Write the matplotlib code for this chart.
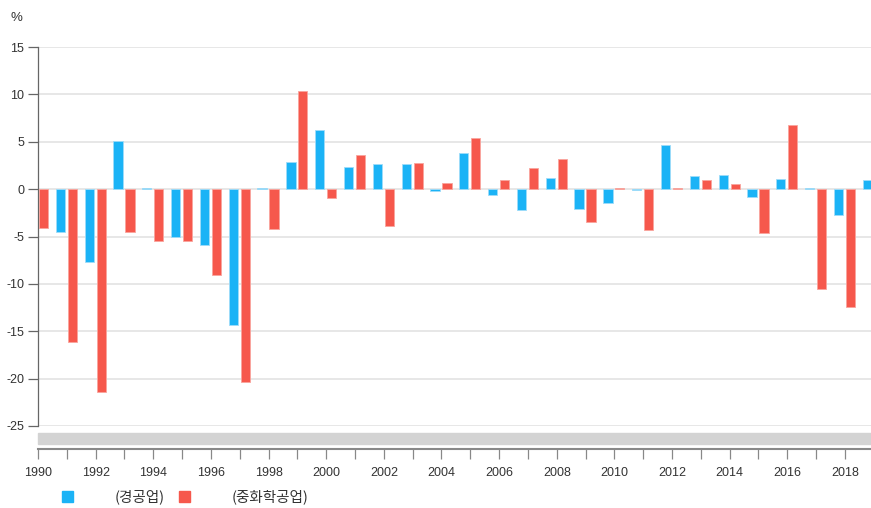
import numpy as np
import matplotlib
matplotlib.use("Agg")
import matplotlib.pyplot as plt
from matplotlib.patches import Rectangle
from matplotlib import font_manager

years = list(range(1990, 2020))
light = [np.nan, -4.5, -7.7, 5.1, 0.15, -5.0, -5.85, -14.3, 0.15, 2.85,
         6.25, 2.35, 2.7, 2.7, -0.2, 3.8, -0.6, -2.2, 1.2, -2.1,
         -1.45, -0.1, 4.7, 1.35, 1.5, -0.85, 1.1, 0.15, -2.7, 1.0]
heavy = [-4.15, -16.1, -21.4, -4.5, -5.45, -5.45, -9.05, -20.4, -4.25, 10.4,
         -0.95, 3.65, -3.85, 2.8, 0.6, 5.4, 1.0, 2.2, 3.2, -3.5,
         0.15, -4.3, 0.15, 1.0, 0.5, -4.6, 6.75, -10.5, -12.4, np.nan]
series_names = ["(경공업)", "(중화학공업)"]
yticks = [15, 10, 5, 0, -5, -10, -15, -20, -25]
xtick_years = list(range(1990, 2019, 2))

available = {f.name for f in font_manager.fontManager.ttflist}
num_font = "Liberation Sans Narrow" if "Liberation Sans Narrow" in available else "Liberation Sans"
plt.rcParams['font.family'] = [num_font, 'Noto Sans CJK KR', 'DejaVu Sans']

BLUE = "#1bb3f6"
RED = "#f6584c"
TXT = "#333333"
W, H = 871, 508

fig = plt.figure(figsize=(W / 100, H / 100), dpi=100)

def fx(px):
    return px / W

def fy(py):
    return 1 - py / H

left, right = 38, 871
top, bottom = 47, 426
ax = fig.add_axes([fx(left), fy(bottom), fx(right - left), fy(top) - fy(bottom)])

x = np.array(years, dtype=float)
bw = 0.32
ax.bar(x - 0.225, light, width=bw, color=BLUE, edgecolor="#9fdcf9", linewidth=0.6, zorder=3)
ax.bar(x + 0.19, heavy, width=bw, color=RED, edgecolor="#f9a49d", linewidth=0.6, zorder=3)

xmax = 1990 + (right - left) / 28.82
ax.set_xlim(1990, xmax)
ax.set_ylim(-25, 15)
ax.set_yticks(yticks)
ax.set_yticklabels([str(v) for v in yticks], fontsize=9, color=TXT)
ax.yaxis.grid(True, color="#e3e3e3", linewidth=1.2, zorder=0)
ax.set_xticks([])
for s in ["top", "right", "bottom"]:
    ax.spines[s].set_visible(False)
ax.spines["left"].set_color("#666666")
ax.spines["left"].set_linewidth(0.9)
ax.tick_params(axis="y", length=7, width=0.9, color="#666666", pad=3)

fig.text(fx(10), fy(18), "%", fontsize=9.5, color=TXT, ha="left", va="center")

# scrollbar band
fig.patches.append(Rectangle((fx(left), fy(443.5)), fx(right - left), fy(432.5) - fy(443.5),
                             transform=fig.transFigure, color="#d3d3d3", zorder=1))

# category axis
ax2 = fig.add_axes([fx(left), fy(448.5), fx(right - left), 0.0001])
ax2.set_xlim(1990, xmax)
ax2.set_yticks([])
for s in ["top", "right", "left"]:
    ax2.spines[s].set_visible(False)
ax2.spines["bottom"].set_color("#888888")
ax2.spines["bottom"].set_linewidth(1.5)
ax2.set_xticks(years[:-1])
ax2.set_xticklabels([str(y) if y in xtick_years else "" for y in years[:-1]],
                    fontsize=9, color=TXT)
ax2.tick_params(axis="x", length=7.5, width=0.9, color="#888888", pad=6)
ax2.patch.set_visible(False)

# legend
kfont = ['Noto Sans CJK KR', 'DejaVu Sans']
fig.patches.append(Rectangle((fx(62), fy(502)), fx(11), fy(491) - fy(502),
                             transform=fig.transFigure, color=BLUE))
fig.text(fx(115), fy(497), series_names[0], fontsize=10.5, color=TXT, ha="left", va="center",
         family=kfont)
fig.patches.append(Rectangle((fx(179), fy(502)), fx(11), fy(491) - fy(502),
                             transform=fig.transFigure, color=RED))
fig.text(fx(232), fy(497), series_names[1], fontsize=10.5, color=TXT, ha="left", va="center",
         family=kfont)

fig.savefig("out.png", dpi=100)
